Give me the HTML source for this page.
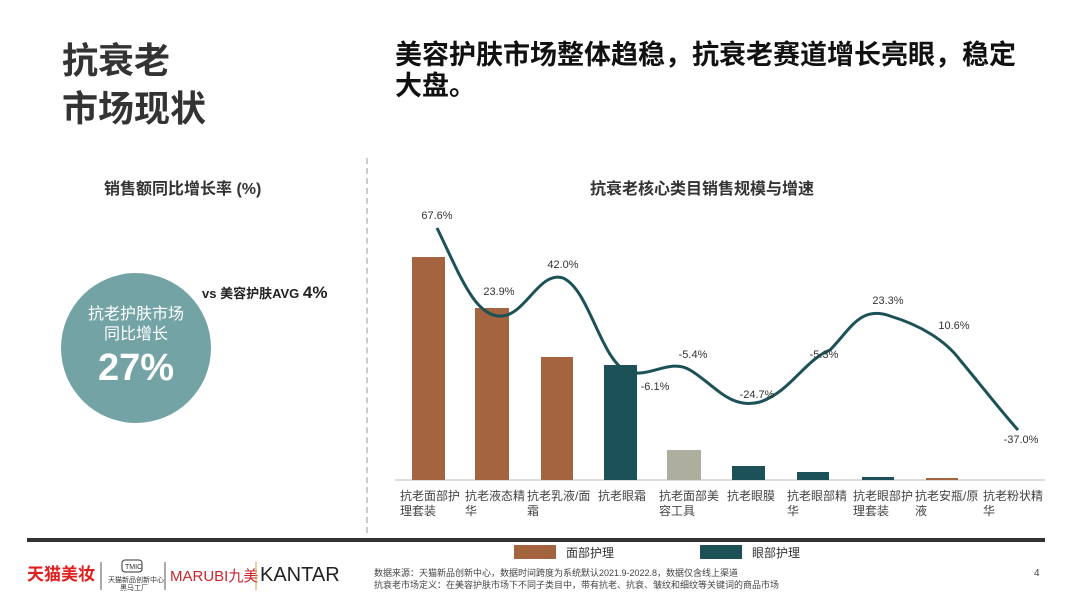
<!DOCTYPE html>
<html><head><meta charset="utf-8"><style>
body{margin:0;width:1074px;height:604px;background:#fff;overflow:hidden;font-family:"Liberation Sans","Noto Sans CJK SC",sans-serif;position:relative}
.a{position:absolute;white-space:nowrap}
</style></head><body>
<div class="a" style="left:62px;top:37px;font-size:36px;font-weight:bold;color:#333;line-height:48px">抗衰老<br>市场现状</div>
<div class="a" style="left:395px;top:40px;font-size:27px;font-weight:bold;color:#111;line-height:31px">美容护肤市场整体趋稳，抗衰老赛道增长亮眼，稳定<br>大盘。</div>
<div class="a" style="left:104px;top:175px;font-size:16px;font-weight:bold;color:#333">销售额同比增长率 (%)</div>
<div class="a" style="left:590px;top:175px;font-size:16px;font-weight:bold;color:#333">抗衰老核心类目销售规模与增速</div>
<div class="a" style="left:366px;top:158px;height:375px;border-left:2px dashed #ccc"></div>
<div class="a" style="left:61px;top:273px;width:150px;height:150px;border-radius:50%;background:#74a3a6;color:#fff;text-align:center">
<div style="margin-top:32px;font-size:16px;line-height:20px">抗老护肤市场<br>同比增长</div>
<div style="font-size:38px;font-weight:bold;line-height:46px">27%</div></div>
<div class="a" style="left:202px;top:283px;font-size:13px;font-weight:bold;color:#222">vs 美容护肤AVG <span style="font-size:17px">4%</span></div>
<svg class="a" style="left:0;top:0" width="1074" height="604">
<line x1="395" y1="480" x2="1045" y2="480" stroke="#bbb"/>
<g fill="#a4643f">
<rect x="412" y="257" width="33" height="223"/><rect x="475" y="308" width="34" height="172"/><rect x="541" y="357" width="32" height="123"/><rect x="926" y="478" width="32" height="2"/></g>
<g fill="#1c5257"><rect x="604" y="365" width="33" height="115"/><rect x="732" y="466" width="33" height="14"/><rect x="797" y="472" width="32" height="8"/><rect x="862" y="477" width="32" height="3"/></g>
<rect x="667" y="450" width="34" height="30" fill="#aeae9f"/>
<path d="M437,228 C460,275 475,318 502,316 C525,315 540,270 563,278 C590,290 600,360 628,372 C650,378 670,358 690,370 C715,385 730,410 760,402 C790,392 805,360 830,350 C850,330 860,305 890,316 C920,325 945,340 960,360 C985,390 1000,410 1018,430" fill="none" stroke="#1c5257" stroke-width="3"/>
<g font-size="11" fill="#333" text-anchor="middle" font-family="Liberation Sans,sans-serif">
<text x="437" y="219">67.6%</text><text x="499" y="295">23.9%</text><text x="563" y="268">42.0%</text><text x="655" y="390">-6.1%</text><text x="693" y="358">-5.4%</text><text x="757" y="398">-24.7%</text><text x="824" y="358">-5.3%</text><text x="888" y="304">23.3%</text><text x="954" y="329">10.6%</text><text x="1021" y="443">-37.0%</text></g>
<g font-size="12" fill="#444">
<text x="400" y="500">抗老面部护</text><text x="400" y="515">理套装</text>
<text x="465" y="500">抗老液态精</text><text x="465" y="515">华</text>
<text x="527" y="500">抗老乳液/面</text><text x="527" y="515">霜</text>
<text x="598" y="500">抗老眼霜</text>
<text x="659" y="500">抗老面部美</text><text x="659" y="515">容工具</text>
<text x="727" y="500">抗老眼膜</text>
<text x="787" y="500">抗老眼部精</text><text x="787" y="515">华</text>
<text x="853" y="500">抗老眼部护</text><text x="853" y="515">理套装</text>
<text x="915" y="500">抗老安瓶/原</text><text x="915" y="515">液</text>
<text x="983" y="500">抗老粉状精</text><text x="983" y="515">华</text></g>
<rect x="27" y="538" width="1018" height="4" fill="#333"/>
<rect x="514" y="545" width="42" height="14" fill="#a4643f"/><text x="566" y="557" font-size="12" fill="#333">面部护理</text>
<rect x="700" y="545" width="42" height="14" fill="#1c5257"/><text x="752" y="557" font-size="12" fill="#333">眼部护理</text>
<text x="27" y="580" font-size="17" font-weight="bold" fill="#e0201e">天猫美妆</text>
<line x1="101" y1="562" x2="101" y2="590" stroke="#555"/>
<rect x="122" y="560" width="20" height="12" rx="3" fill="none" stroke="#333"/><text x="125" y="569" font-size="7" fill="#333">TMIC</text>
<text x="108" y="582" font-size="7" fill="#333">天猫新品创新中心</text><text x="120" y="590" font-size="7" fill="#333">黑马工厂</text>
<line x1="165" y1="562" x2="165" y2="590" stroke="#555"/>
<text x="170" y="581" font-size="15" fill="#c8262c">MARUBI九美</text>
<line x1="256" y1="562" x2="256" y2="590" stroke="#c9a13a"/>
<text x="260" y="581" font-size="20" fill="#222">KANTAR</text>
<text x="374" y="576" font-size="9" fill="#444">数据来源：天猫新品创新中心，数据时间跨度为系统默认2021.9-2022.8，数据仅含线上渠道</text>
<text x="374" y="588" font-size="9" fill="#444">抗衰老市场定义：在美容护肤市场下不同子类目中，带有抗老、抗衰、皱纹和细纹等关键词的商品市场</text>
<text x="1034" y="576" font-size="10" fill="#444">4</text>
</svg>
</body></html>
